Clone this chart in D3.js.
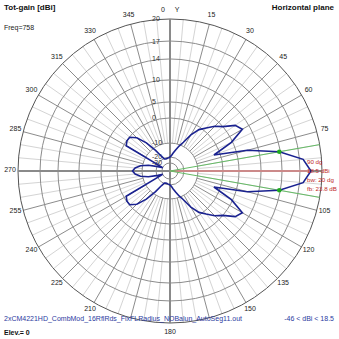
<!DOCTYPE html>
<html><head><meta charset="utf-8">
<script src="https://cdn.jsdelivr.net/npm/d3@7"></script>
<style>html,body{margin:0;padding:0;background:#fff}svg{display:block}text{font-family:"Liberation Sans",Arial,sans-serif}</style>
</head><body><svg id="c" width="339" height="339"></svg>
<script>
// ---- data ----
const azimuths = [0,5,10,15,20,25,30,35,40,45,50,55,60,65,70,75,80,85,90,95,100,105,110,115,120,125,130,135,140,145,150,155,160,165,170,175,
  180,185,190,195,200,205,210,215,220,225,230,235,240,245,250,255,260,265,270,275,280,285,290,295,300,305,310,315,320,325,330,335,340,345,350,355];
const gainDbi = [-20,-19,-17,-14.5,-11,-8.5,-4.5,-1,1.0,3.2,5.0,7.4,8.3,4.6,-2.5,7.5,13.8,17.5,18.5,17.5,13.8,7.5,-2.5,4.6,8.3,7.4,5.0,3.2,1.0,-1,-4.5,-8.5,-11,-14.5,-17,-19,
  -20,-21,-21.5,-22,-22,-21,-18,-12,-6.5,-2.4,-0.2,-0.2,-1,-30,-22,-14,-9.2,-7.2,-6.2,-7.2,-9.2,-14,-22,-30,-1,-0.2,-0.2,-2.4,-6.5,-12,-18,-21,-22,-22,-21.5,-21];
const ringValues = [20,17,14,10,5,0,-10,-20,-30];
const ringLabels = ["20","17","14","10","5","0","-10","-20","-30"];
const angleLabels = ["0","15","30","45","60","75","105","120","135","150","180","210","225","240","255","270","285","300","315","330","345"];
const angleLabelAz = [0,15,30,45,60,75,105,120,135,150,180,210,225,240,255,270,285,300,315,330,345];
const maxAz = 90, maxGain = 18.5;
const bwAz = [80,100], bwGain = [13.8,13.8];
const infoLines = ["90 dg","18.5 dBi","bw: 20 dg","fb: 23.8 dB"];
const scaleDb = [-46,-30,-20,-10,0,5,10,14,17,20];
const scaleFrac = [0,0.053,0.092,0.184,0.349,0.454,0.599,0.737,0.855,1];

// ---- drawing ----
const svg = d3.select("#c");
svg.append("rect").attr("width",339).attr("height",339).attr("fill","#fff");
const cx = 170, cy = 171, R = 152;
const r = d3.scaleLinear().domain(scaleDb).range(scaleFrac.map(f=>f*R)).clamp(true);
const g = svg.append("g").attr("transform",`translate(${cx},${cy})`);
const rad = a => a*Math.PI/180;
const px = (a,rr) => rr*Math.sin(rad(a)), py = (a,rr) => -rr*Math.cos(rad(a));

// spokes
for (let a=0;a<360;a+=5){
  if (a%90===0) continue;
  const major = a%15===0;
  g.append("line").attr("x1",px(a,r(-10))).attr("y1",py(a,r(-10)))
    .attr("x2",px(a,R)).attr("y2",py(a,R))
    .attr("stroke",major?"#8c8c8c":"#d4d4d4").attr("stroke-width",1);
}
// rings
ringValues.forEach((v,i)=>{
  g.append("circle").attr("r",r(v)).attr("fill","none")
   .attr("stroke", i===0?"#555":"#8c8c8c").attr("stroke-width",1);
});
// axes
g.append("line").attr("x1",-R).attr("x2",R).attr("y1",0).attr("y2",0).attr("stroke","#8a8a8a").attr("stroke-width",2);
g.append("line").attr("x1",0).attr("x2",0).attr("y1",-R).attr("y2",R).attr("stroke","#8a8a8a").attr("stroke-width",2);
// ring labels
ringValues.forEach((v,i)=>{
  g.append("text").attr("x",-18).attr("y",-r(v)).attr("dy","0.35em")
   .attr("font-size",7).attr("fill","#333").text(ringLabels[i]);
});
// angle labels
angleLabelAz.forEach((a,i)=>{
  let x = px(a,160), y = py(a,160)-1.5;
  if (a===0) x -= 7;
  if (a===180) y += 1.8;
  g.append("text").attr("x",x).attr("y",y).attr("dy","0.35em").attr("text-anchor","middle")
   .attr("font-size",7).attr("fill","#222").text(angleLabels[i]);
});
g.append("text").attr("x",7).attr("y",-160-1.5).attr("dy","0.35em").attr("text-anchor","middle")
 .attr("font-size",7).attr("fill","#222").text("Y");

// max & bw lines
g.append("line").attr("x1",0).attr("y1",0).attr("x2",px(maxAz,r(maxGain))).attr("y2",py(maxAz,r(maxGain)))
 .attr("stroke","#cc8a8a").attr("stroke-width",2);
bwAz.forEach(a=>{
  g.append("line").attr("x1",0).attr("y1",0).attr("x2",px(a,R)).attr("y2",py(a,R))
   .attr("stroke","#66bb66").attr("stroke-width",1);
});
// pattern
const pts = azimuths.map((a,i)=>({a, v:gainDbi[i]}));
const line = d3.lineRadial().angle(d=>rad(d.a)).radius(d=>r(d.v)).curve(d3.curveLinearClosed);
g.append("path").attr("d",line(pts)).attr("fill","none").attr("stroke","#1a2290").attr("stroke-width",1.6);
// bw dots
bwAz.forEach((a,i)=>{
  g.append("circle").attr("cx",px(a,r(bwGain[i]))).attr("cy",py(a,r(bwGain[i]))).attr("r",2.3).attr("fill","#1eaa1e");
});
// info text
infoLines.forEach((t,i)=>{
  svg.append("text").attr("x",307).attr("y",164+i*9).attr("font-size",6.2).attr("fill","#c02828").text(t);
});
// titles
svg.append("text").attr("x",4).attr("y",10).attr("font-size",8).attr("font-weight","bold").attr("fill","#111").text("Tot-gain [dBi]");
svg.append("text").attr("x",4).attr("y",30).attr("font-size",7).attr("fill","#222").text("Freq=758");
svg.append("text").attr("x",334).attr("y",10).attr("text-anchor","end").attr("font-size",8).attr("font-weight","bold").attr("fill","#111").text("Horizontal plane");
svg.append("text").attr("x",4).attr("y",321).attr("font-size",7).attr("fill","#2a3aa0").text("2xCM4221HD_CombMod_16RflRds_FixFLRadius_NOBalun_AutoSeg11.out");
svg.append("text").attr("x",334).attr("y",321).attr("text-anchor","end").attr("font-size",7).attr("fill","#2a3aa0").text("-46 < dBi < 18.5");
svg.append("text").attr("x",4).attr("y",335).attr("font-size",7).attr("font-weight","bold").attr("fill","#111").text("Elev.= 0");
</script></body></html>
